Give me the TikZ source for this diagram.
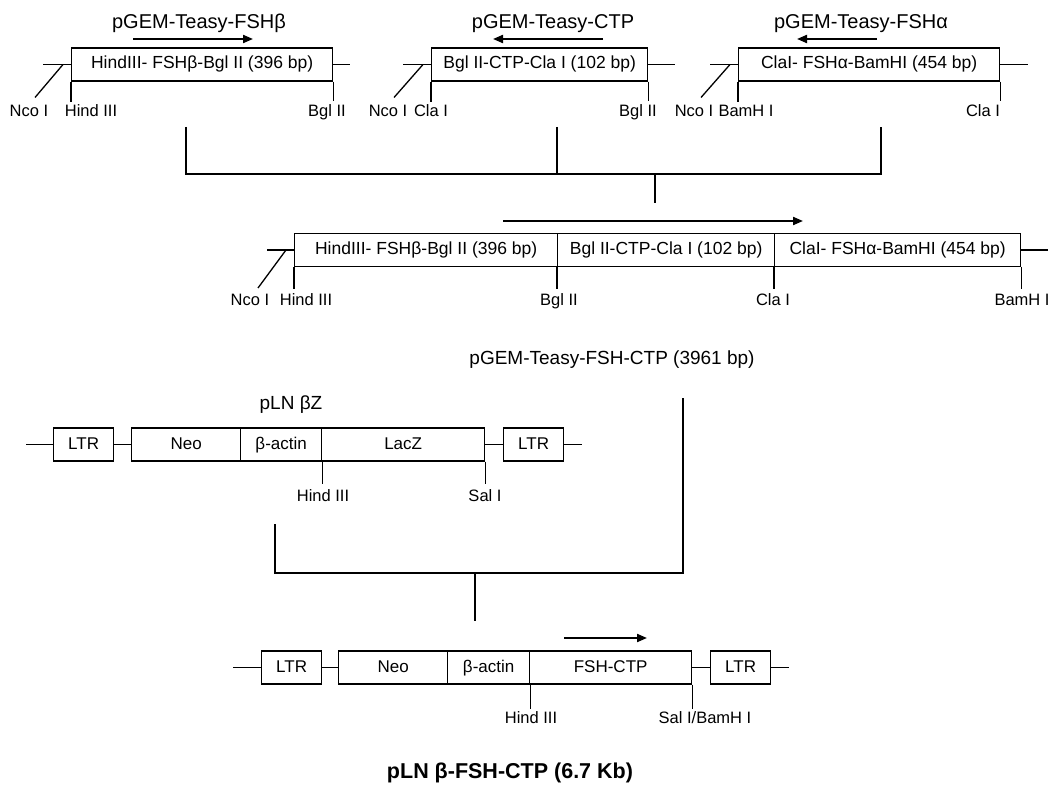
\documentclass[tikz,border=0pt]{standalone}
\usepackage{fontspec}
\setmainfont{Liberation Sans}
\usetikzlibrary{arrows.meta}
\begin{document}
\begin{tikzpicture}[x=1pt,y=-1pt,
  seg/.style={draw, line width=1.3pt, minimum height=33pt, inner sep=0pt, anchor=west, text height=12.5pt, text depth=3.5pt, font=\fontsize{17.5}{17.5}\selectfont},
  rowbox/.style={draw, line width=1.3pt, minimum height=33pt, inner sep=0pt, anchor=west, text height=12.5pt, text depth=3.5pt, font=\fontsize{17}{17}\selectfont},
  lbl/.style={inner sep=0pt, anchor=base, font=\fontsize{16.5}{16.5}\selectfont},
  ttl/.style={inner sep=0pt, anchor=base, font=\fontsize{20}{20}\selectfont},
  wire/.style={line width=1.3pt},
  dir/.style={line width=2pt, -{Triangle[length=10pt,width=8pt]}}]
\useasboundingbox (0,0) rectangle (1051,786);

% ---------- top row ----------
\node[seg, minimum width=261pt] (b1) at (71,64.5) {HindIII- FSHβ-Bgl II (396 bp)};
\node[seg, minimum width=216pt] (b2) at (431,64.5) {Bgl II-CTP-Cla I (102 bp)};
\node[seg, minimum width=261pt] (b3) at (738,64.5) {ClaI- FSHα-BamHI (454 bp)};

\node[ttl] (t1) at (199,29) {pGEM-Teasy-FSHβ};
\node[ttl] (t2) at (553,29) {pGEM-Teasy-CTP};
\node[ttl] (t3) at (861,29) {pGEM-Teasy-FSHα};

\coordinate (a1s) at (133,39); \coordinate (a1e) at (253,39);
\coordinate (a2s) at (603,39); \coordinate (a2e) at (493,39);
\coordinate (a3s) at (877,39); \coordinate (a3e) at (797,39);
\draw[dir] (a1s) -- (a1e);
\draw[dir] (a2s) -- (a2e);
\draw[dir] (a3s) -- (a3e);

% stubs, diagonals and ticks of the top row
\draw[wire] (b1.west) -- ++(-28,0);
\draw[wire] (b1.east) -- ++(17,0);
\draw[wire] ([xshift=-8pt]b1.west) -- ++(-28,33);
\draw[wire] (b1.south west) -- ++(0,20);
\draw[wire] (b1.south east) -- ++(0,19);
\node[lbl] (n1a) at (29,117) {Nco I};
\node[lbl] (n1b) at (91,117) {Hind III};
\node[lbl] (n1c) at (327,117) {Bgl II};

\draw[wire] (b2.west) -- ++(-28,0);
\draw[wire] (b2.east) -- ++(27,0);
\draw[wire] ([xshift=-8pt]b2.west) -- ++(-29,33);
\draw[wire] (b2.south west) -- ++(0,20);
\draw[wire] (b2.south east) -- ++(0,19);
\node[lbl] (n2a) at (388,117) {Nco I};
\node[lbl] (n2b) at (431,117) {Cla I};
\node[lbl] (n2c) at (638,117) {Bgl II};

\draw[wire] (b3.west) -- ++(-28,0);
\draw[wire] (b3.east) -- ++(28,0);
\draw[wire] ([xshift=-8pt]b3.west) -- ++(-29,33);
\draw[wire] (b3.south west) -- ++(0,20);
\draw[wire] (b3.south east) -- ++(0,19);
\node[lbl] (n3a) at (694,117) {Nco I};
\node[lbl] (n3b) at (746,117) {BamH I};
\node[lbl] (n3c) at (983,117) {Cla I};

% ---------- first bracket ----------
\coordinate (k1) at (186,127); \coordinate (k1b) at (186,174);
\coordinate (k2) at (557,127); \coordinate (k2b) at (557,174);
\coordinate (k3) at (881,127); \coordinate (k3b) at (881,174);
\coordinate (kd) at (655,174); \coordinate (kde) at (655,203);
\draw[wire] (k1) -- (k1b) -- (k3b) -- (k3);
\draw[wire] (k2) -- (k2b);
\draw[wire] (kd) -- (kde);

% ---------- middle construct ----------
\coordinate (ams) at (503,221); \coordinate (ame) at (803,221);
\draw[dir] (ams) -- (ame);
\node[seg, minimum width=263pt] (m1) at (294,250) {HindIII- FSHβ-Bgl II (396 bp)};
\node[seg, minimum width=217pt] (m2) at (557,250) {Bgl II-CTP-Cla I (102 bp)};
\node[seg, minimum width=246pt] (m3) at (774,250) {ClaI- FSHα-BamHI (454 bp)};
\draw[wire] (m1.west) -- ++(-27,0);
\draw[wire] (m3.east) -- ++(27,0);
\draw[wire] ([xshift=-8pt]m1.west) -- ++(-28,38);
\draw[wire] (m1.south west) -- ++(0,22);
\draw[wire] (m2.south west) -- ++(0,22);
\draw[wire] (m3.south west) -- ++(0,22);
\draw[wire] (m3.south east) -- ++(0,22);
\node[lbl] (mn1) at (250,305) {Nco I};
\node[lbl] (mn2) at (306,305) {Hind III};
\node[lbl] (mn3) at (559,305) {Bgl II};
\node[lbl] (mn4) at (773,305) {Cla I};
\node[lbl] (mn5) at (1022,305) {BamH I};
\node[inner sep=0pt, anchor=base, font=\fontsize{19}{19}\selectfont] (mt) at (612,364) {pGEM-Teasy-FSH-CTP (3961 bp)};

% ---------- pLN beta Z ----------
\node[inner sep=0pt, anchor=base, font=\fontsize{19}{19}\selectfont] (zt) at (291,409) {pLN βZ};
\node[rowbox, minimum width=60pt] (z1) at (53,444.5) {LTR};
\node[rowbox, minimum width=109pt] (z2) at (131,444.5) {Neo};
\node[rowbox, minimum width=81pt] (z3) at (240,444.5) {β-actin};
\node[rowbox, minimum width=163pt] (z4) at (321,444.5) {LacZ};
\node[rowbox, minimum width=60pt] (z5) at (503,444.5) {LTR};
\draw[wire] (z1.west) -- ++(-27,0);
\draw[wire] (z1.east) -- (z2.west);
\draw[wire] (z4.east) -- (z5.west);
\draw[wire] (z5.east) -- ++(18,0);
\draw[wire] (z3.south east) -- ++(0,22);
\draw[wire] (z4.south east) -- ++(0,22);
\node[lbl] (zl1) at (323,501) {Hind III};
\node[lbl] (zl2) at (485,501) {Sal I};

% ---------- second bracket ----------
\coordinate (q1) at (275,524); \coordinate (q1b) at (275,573);
\coordinate (q2) at (683,398); \coordinate (q2b) at (683,573);
\coordinate (qd) at (475,573); \coordinate (qde) at (475,621);
\draw[wire] (q1) -- (q1b) -- (q2b) -- (q2);
\draw[wire] (qd) -- (qde);

% ---------- final construct ----------
\coordinate (abs) at (564,638); \coordinate (abe) at (647,638);
\draw[dir] (abs) -- (abe);
\node[rowbox, minimum width=60pt] (f1) at (261,667.5) {LTR};
\node[rowbox, minimum width=109pt] (f2) at (338,667.5) {Neo};
\node[rowbox, minimum width=82pt] (f3) at (447,667.5) {β-actin};
\node[rowbox, minimum width=162pt] (f4) at (529,667.5) {FSH-CTP};
\node[rowbox, minimum width=60pt] (f5) at (710,667.5) {LTR};
\draw[wire] (f1.west) -- ++(-28,0);
\draw[wire] (f1.east) -- (f2.west);
\draw[wire] (f4.east) -- (f5.west);
\draw[wire] (f5.east) -- ++(18,0);
\draw[wire] (f3.south east) -- ++(0,24);
\draw[wire] (f4.south east) -- ++(0,24);
\node[lbl] (fl1) at (531,723) {Hind III};
\node[lbl] (fl2) at (705,723) {Sal I/BamH I};
\node[inner sep=0pt, anchor=base, font=\bfseries\fontsize{21.5}{21.5}\selectfont] (ft) at (510,778) {pLN β-FSH-CTP (6.7 Kb)};
\end{tikzpicture}
\end{document}
